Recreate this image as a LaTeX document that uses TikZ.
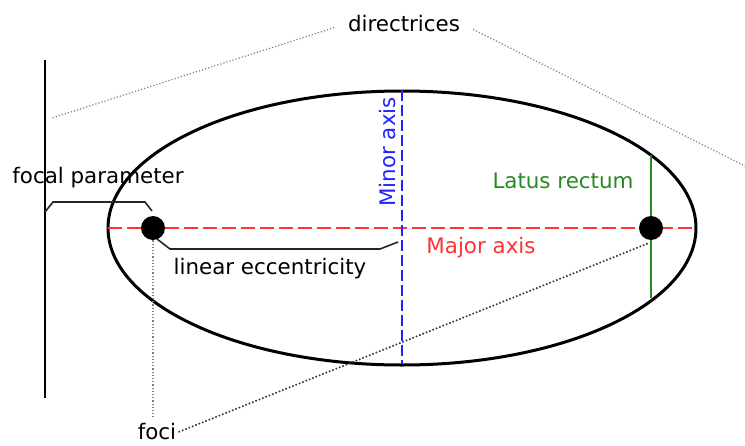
\documentclass[tikz,border=0pt]{standalone}
\usepackage{fontspec}
\setmainfont{DejaVu Sans}
\usetikzlibrary{arrows.meta,positioning,calc}
\definecolor{majorred}{RGB}{255,51,51}
\definecolor{minorblue}{RGB}{34,34,255}
\definecolor{latusgreen}{RGB}{34,139,34}

\begin{document}
\begin{tikzpicture}[
      x=0.5pt,y=-0.5pt,
      lbl/.style={font=\fontsize{10.7}{12}\selectfont,inner sep=1pt},
      focus/.style={circle,fill=black,minimum size=12pt,inner sep=0pt},
      axisline/.style={line width=1.4pt,dash pattern=on 7pt off 2.5pt},
      guide/.style={densely dotted,line width=0.8pt,black!80},
      thinguide/.style={densely dotted,line width=0.6pt,gray},
      brace/.style={line width=0.8pt,black!85}
    ]
      \useasboundingbox (0,0) rectangle (745,445);
      \coordinate (left) at (108,228);
      \coordinate (right) at (696,228);
      \coordinate (top) at (402,90);
      \coordinate (bottom) at (402,364);
      \coordinate (lrtop) at (651,155);
      \coordinate (lrbot) at (651,298);
      \coordinate (dirtop) at (45,60);
      \coordinate (dirbot) at (45,398);
      \coordinate (dl) at (52,118);
      \coordinate (dr) at (745,166);
      \draw[line width=1.5pt] (402,228) ellipse [x radius=294,y radius=137];
      \draw[line width=1pt] (dirtop) -- (dirbot);
      \draw[axisline,majorred] (left) -- (right);
      \draw[axisline,minorblue,dash pattern=on 5.5pt off 2pt] (top) -- (bottom);
      \draw[line width=1.2pt,latusgreen] (lrtop) -- (lrbot);
      \node[focus] (f1) at (153,228) {};
      \node[focus] (f2) at (651,228) {};
      \node[lbl] (dir) at (404,24) {directrices};
      \node[lbl] (fp) at (98,178) {focal parameter};
      \node[lbl] (le) at (270,269) {linear eccentricity};
      \node[lbl] (foci) at (157,432) {foci};
      \node[lbl,minorblue,rotate=90] (minor) at (388,152) {Minor axis};
      \node[lbl,latusgreen] (latus) at (563,181) {Latus rectum};
      \node[lbl,majorred] (major) at (481,248) {Major axis};
      \draw[thinguide,shorten <=6pt] (dir.west) -- (dl);
      \draw[thinguide,shorten <=6pt] (dir.east) -- (dr);
      \draw[brace] (45,212) -- (53,202) -- (145,202) -- (152,211);
      \draw[brace] (157,239) -- (170,249) -- (380,249) -- (398,242);
      \draw[thinguide] (f1.south) -- ([yshift=2pt]f1.south |- foci.north);
      \draw[guide] (foci.east) -- ([xshift=-1.5pt,yshift=-1.5pt]f2.south);
    \end{tikzpicture}
\end{document}
